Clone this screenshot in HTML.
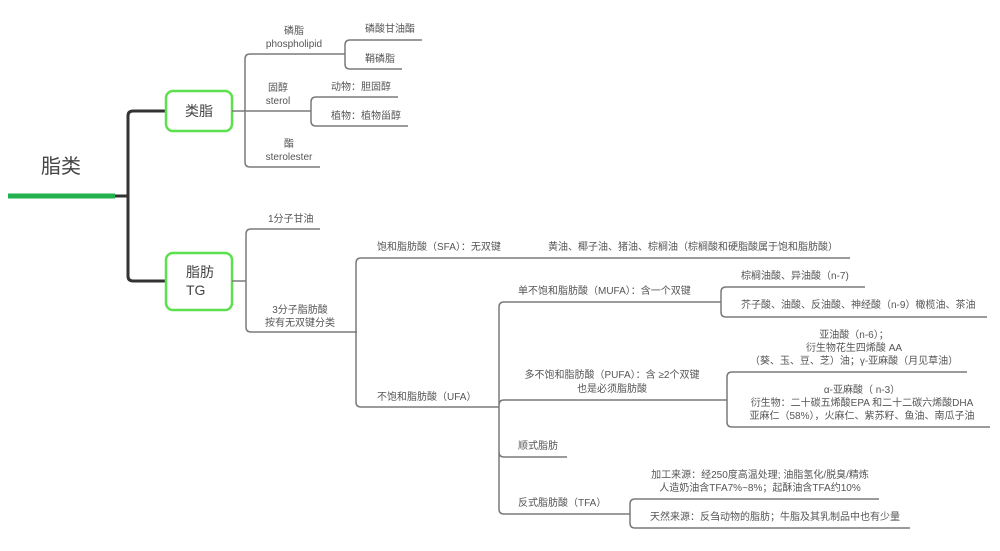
<!DOCTYPE html>
<html><head><meta charset="utf-8"><style>
html,body{margin:0;padding:0;background:#fff;}
svg{display:block;}
text{font-family:"Liberation Sans","Noto Sans CJK SC",sans-serif;fill:#555;font-size:10px;}
.l{fill:none;stroke:#7a7a7a;stroke-width:1.5;}
</style></head><body>
<svg width="1000" height="551" viewBox="0 0 1000 551" xmlns="http://www.w3.org/2000/svg">
<!-- root -->
<text x="61" y="173" text-anchor="middle" style="font-size:20px;fill:#444">脂类</text>
<rect x="8" y="193.5" width="107" height="5" fill="#22b14c"/>
<path d="M115 196 H128 M128 196 V116 Q128 111 133 111 H166 M128 196 V276 Q128 281 133 281 H166" fill="none" stroke="#333" stroke-width="3"/>
<rect x="166" y="91" width="66" height="40" rx="7" fill="#fff" stroke="#5ce04d" stroke-width="2.5"/>
<text x="199" y="116" text-anchor="middle" style="font-size:14px;fill:#444">类脂</text>
<rect x="166" y="253" width="66" height="57" rx="7" fill="#fff" stroke="#5ce04d" stroke-width="2.5"/>
<text x="186" y="277" style="font-size:14px;fill:#444">脂肪</text>
<text x="186" y="295" style="font-size:14px;fill:#444">TG</text>

<!-- 类脂 children -->
<path class="l" d="M232 111 H245 M245 111 V59 Q245 54 250 54 H345 M245 111 H311 M245 111 V162 Q245 167 250 167 H320"/>
<text x="294" y="34" text-anchor="middle">磷脂</text>
<text x="294" y="47" text-anchor="middle">phospholipid</text>
<text x="278" y="91" text-anchor="middle">固醇</text>
<text x="278" y="104" text-anchor="middle">sterol</text>
<text x="289" y="147" text-anchor="middle">酯</text>
<text x="289" y="160" text-anchor="middle">sterolester</text>
<path class="l" d="M345 54 V45 Q345 40 350 40 H422 M345 54 V64 Q345 69 350 69 H402"/>
<text x="365" y="32">磷酸甘油酯</text>
<text x="365" y="62">鞘磷脂</text>
<path class="l" d="M311 111 V102 Q311 97 316 97 H398 M311 111 V121 Q311 126 316 126 H408"/>
<text x="331" y="90">动物：胆固醇</text>
<text x="331" y="119">植物：植物甾醇</text>

<!-- 脂肪 children -->
<path class="l" d="M232 281 H246 M246 281 V234 Q246 229 251 229 H320 M246 281 V327 Q246 332 251 332 H357"/>
<text x="268" y="222">1分子甘油</text>
<text x="300" y="313" text-anchor="middle">3分子脂肪酸</text>
<text x="300" y="326" text-anchor="middle">按有无双键分类</text>

<path class="l" d="M356 332 V263 Q356 258 361 258 H850 M356 332 V402 Q356 407 361 407 H499"/>
<text x="377" y="250">饱和脂肪酸（SFA）：无双键</text>
<text x="548" y="250">黄油、椰子油、猪油、棕榈油（棕榈酸和硬脂酸属于饱和脂肪酸）</text>
<text x="377" y="400">不饱和脂肪酸（UFA）</text>

<!-- UFA children -->
<path class="l" d="M499 407 V307 Q499 302 504 302 H721 M499 407 V405 Q499 400 504 400 H727 M499 407 V452 Q499 457 504 457 H567 M499 407 V509 Q499 514 504 514 H630"/>
<text x="518" y="294">单不饱和脂肪酸（MUFA）：含一个双键</text>
<text x="612" y="378" text-anchor="middle">多不饱和脂肪酸（PUFA）：含 ≥2个双键</text>
<text x="612" y="392" text-anchor="middle">也是必须脂肪酸</text>
<text x="518" y="449">顺式脂肪</text>
<text x="518" y="506">反式脂肪酸（TFA）</text>

<path class="l" d="M721 302 V292 Q721 287 726 287 H865 M721 302 V312 Q721 317 726 317 H987"/>
<text x="741" y="279">棕榈油酸、异油酸（n-7)</text>
<text x="741" y="308">芥子酸、油酸、反油酸、神经酸（n-9）橄榄油、茶油</text>

<path class="l" d="M727 400 V377 Q727 372 732 372 H967 M727 400 V422 Q727 427 732 427 H990"/>
<text x="854" y="338" text-anchor="middle">亚油酸（n-6）；</text>
<text x="854" y="351" text-anchor="middle">衍生物花生四烯酸 AA</text>
<text x="854" y="364" text-anchor="middle">（葵、玉、豆、芝）油；γ-亚麻酸（月见草油）</text>
<text x="862" y="393" text-anchor="middle">α-亚麻酸（ n-3）</text>
<text x="862" y="406" text-anchor="middle">衍生物：二十碳五烯酸EPA 和二十二碳六烯酸DHA</text>
<text x="862" y="419" text-anchor="middle">亚麻仁（58%），火麻仁、紫苏籽、鱼油、南瓜子油</text>

<path class="l" d="M630 514 V504 Q630 499 635 499 H879 M630 514 V523 Q630 528 635 528 H910"/>
<text x="760" y="478" text-anchor="middle">加工来源：经250度高温处理; 油脂氢化/脱臭/精炼</text>
<text x="760" y="491" text-anchor="middle">人造奶油含TFA7%~8%；起酥油含TFA约10%</text>
<text x="650" y="520">天然来源：反刍动物的脂肪；牛脂及其乳制品中也有少量</text>
</svg>
</body></html>
